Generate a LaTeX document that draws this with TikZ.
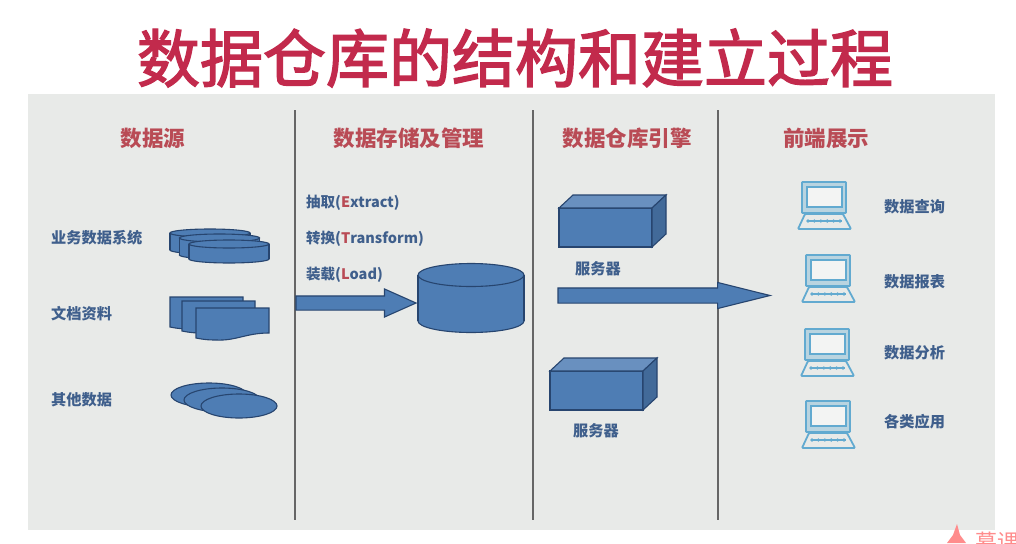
\documentclass[tikz,border=0pt]{standalone}
\usepackage{fontspec}
\setmainfont{Noto Sans CJK SC}
\newfontfamily\titlefont[FakeBold=2.2]{Noto Sans CJK SC}
\usetikzlibrary{shapes.geometric, shapes.arrows, positioning, calc}
\definecolor{titlered}{HTML}{C22A4C}
\definecolor{headred}{HTML}{B94B55}
\definecolor{labelblue}{HTML}{3F5F8C}
\definecolor{panelgray}{HTML}{E8EAE8}
\definecolor{shapeblue}{HTML}{4E7DB4}
\definecolor{shapeline}{HTML}{27456F}
\definecolor{laptopblue}{HTML}{62AAD0}

\begin{document}
\begin{tikzpicture}[
      x=1pt, y=-1pt,
      title/.style={font=\fontsize{63}{70}\titlefont\selectfont, text=titlered, inner sep=0pt},
      head/.style={font=\fontsize{21.5}{24}\selectfont\bfseries, text=headred, inner sep=0pt},
      lab/.style={font=\fontsize{15.2}{18}\selectfont\bfseries, text=labelblue, inner sep=0pt, anchor=west},
      etl/.style={font=\fontsize{14.5}{18}\selectfont\bfseries, text=labelblue, inner sep=0pt, anchor=west},
      blob/.style={draw=shapeline, fill=shapeblue, line width=1.1pt},
      oval/.style={blob, ellipse, inner sep=0pt, minimum width=76pt, minimum height=24pt},
      divider/.style={draw=black!60, line width=1.6pt},
      bigarr/.style={blob, single arrow, inner sep=0pt, anchor=west, outer sep=0pt},
      disc/.pic={
        \fill[blob] (0,#1) ellipse [x radius=40, y radius=4];
        \fill[shapeblue] (-40,0) rectangle (40,#1);
        \draw[shapeline, line width=1.1pt] (-40,0) -- (-40,#1) (40,0) -- (40,#1);
        \fill[blob] (0,0) ellipse [x radius=40, y radius=4];
      },
      sheet/.pic={
        \draw[blob] (0,0) -- (73,0) -- (73,25)
          .. controls (50,25) and (40,33) .. (20,32) .. controls (10,32) and (5,31) .. (0,30) -- cycle;
      },
      server/.pic={
        \draw[blob] (0,0) rectangle (93,39);
        \draw[blob, fill=shapeblue!85!white] (0,0) -- (14,-13) -- (107,-13) -- (93,0) -- cycle;
        \draw[blob, fill=shapeblue!85!black] (93,0) -- (107,-13) -- (107,26) -- (93,39) -- cycle;
      },
      laptop/.pic={
        \draw[laptopblue, fill=laptopblue!35!panelgray, line width=1.8pt, rounded corners=0.6pt] (0,0) rectangle (44,31);
        \draw[laptopblue, fill=white!50!panelgray, line width=1.4pt] (5,5) rectangle (40,25);
        \draw[laptopblue, fill=panelgray, line width=1.8pt, rounded corners=1pt] (3,32) -- (41,32) -- (49,47) -- (-4,47) -- cycle;
        \draw[laptopblue, line width=1.2pt] (5,39) -- (40,39);
        \foreach \i in {0,...,5} \fill[laptopblue] (6+\i*6.4,39) circle (1.8);
      }
    ]
      \useasboundingbox (0,0) rectangle (1016,543);
      \fill[white] (0,0) rectangle (1016,543);
      \fill[panelgray] (28,94) rectangle (995,530);

      \node[title] (maintitle) at (515,58) {数据仓库的结构和建立过程};

      % headers
      \node[head] (hsource) at (153,138) {数据源};
      \node[head] (hstore) at (409,138) {数据存储及管理};
      \node[head] (hengine) at (627,138) {数据仓库引擎};
      \node[head] (hfront) at (826,138) {前端展示};

      \draw[divider] (295,110) -- (295,520);
      \draw[divider] (533,110) -- (533,520);
      \draw[divider] (718,110) -- (718,520);

      % data sources
      \node[lab] (lbiz) at (51,238) {业务数据系统};
      \node[lab] (ldoc) at (51,314) {文档资料};
      \node[lab] (lother) at (51,400) {其他数据};

      \pic at (210,233) {disc=17};
      \pic at (219.5,238) {disc=17};
      \pic at (229,244) {disc=15};

      \pic at (170,297) {sheet};
      \pic at (182,301) {sheet};
      \pic at (196,308) {sheet};

      \node[oval] (e1) at (209,395) {};
      \node[oval] (e2) at (222,400) {};
      \node[oval] (e3) at (239,406) {};

      % storage
      \node[etl] (lext) at (306,203) {抽取(\textcolor{headred}{E}xtract)};
      \node[etl] (ltra) at (306,239) {转换(\textcolor{headred}{T}ransform)};
      \node[etl] (lloa) at (306,275) {装载(\textcolor{headred}{L}oad)};

      \node[bigarr, minimum height=120pt, single arrow head extend=7pt, single arrow tip angle=48] (arrstore) at (296,303) {\rule{0pt}{13pt}};

      \fill[blob] (471,321) ellipse [x radius=53, y radius=11.5];
      \fill[shapeblue] (418,275) rectangle (524,321);
      \draw[shapeline, line width=1.1pt] (418,275) -- (418,321) (524,275) -- (524,321);
      \fill[blob] (471,275) ellipse [x radius=53, y radius=11.5];

      % engine
      \pic at (559,208) {server};
      \pic at (550,371) {server};
      \node[lab] (lsrv1) at (575,269) {服务器};
      \node[lab] (lsrv2) at (573,431) {服务器};

      \node[bigarr, minimum height=212pt, single arrow head extend=5.5pt, single arrow tip angle=28] (arrfront) at (558,295.5) {\rule{0pt}{14pt}};

      % front end
      \pic at (802,182) {laptop};
      \pic at (806,255) {laptop};
      \pic at (805,329) {laptop};
      \pic at (806,401) {laptop};
      \node[lab] (lq) at (884,207) {数据查询};
      \node[lab] (lr) at (884,282) {数据报表};
      \node[lab] (la) at (884,353) {数据分析};
      \node[lab] (lu) at (884,422) {各类应用};

      % corner mark
      \fill[red!45!white] (947,543) -- (953,535) -- (957,524) -- (960,535) -- (966,543) -- cycle;
      \node[font=\fontsize{22}{24}\selectfont, text=red!45!white, inner sep=0pt, anchor=north west] (mark) at (975,532) {慕课};
    \end{tikzpicture}
\end{document}
